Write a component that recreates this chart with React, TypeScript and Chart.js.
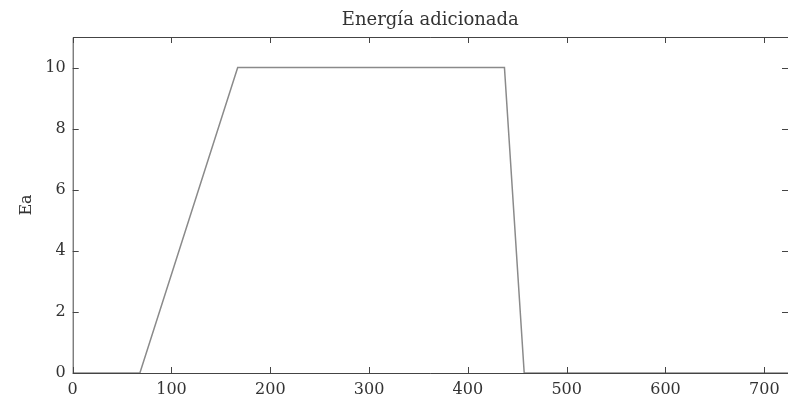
import React, { useEffect, useRef } from "react";
import { Chart, registerables } from "chart.js";

Chart.register(...registerables);

const timeValues = [0, 68, 167, 437, 457, 724];
const energyValues = [0, 0, 10, 10, 0, 0];
const xTickValues = [0, 100, 200, 300, 400, 500, 600, 700];
const yTickValues = [0, 2, 4, 6, 8, 10];
const titleText = "Energía adicionada";
const yLabelText = "Ea";

const FONT = "'DejaVu Serif', serif";

const framePlugin = {
  id: "matlabFrame",
  afterDraw(chart: any) {
    const { ctx, chartArea } = chart;
    const { left, right, top, bottom } = chartArea;
    const xs = chart.scales.x;
    const ys = chart.scales.y;
    ctx.save();
    ctx.strokeStyle = "#444";
    ctx.lineWidth = 1;
    ctx.beginPath();
    ctx.moveTo(left + 0.5, top + 0.5);
    ctx.lineTo(right + 0.5, top + 0.5);
    ctx.lineTo(right + 0.5, bottom + 0.5);
    ctx.lineTo(left + 0.5, bottom + 0.5);
    ctx.closePath();
    ctx.stroke();
    const tl = 6;
    ctx.beginPath();
    xs.ticks.forEach((t: any) => {
      const px = Math.round(xs.getPixelForValue(t.value)) + 0.5;
      ctx.moveTo(px, bottom);
      ctx.lineTo(px, bottom - tl);
      ctx.moveTo(px, top);
      ctx.lineTo(px, top + tl);
    });
    ys.ticks.forEach((t: any) => {
      const py = Math.round(ys.getPixelForValue(t.value)) + 0.5;
      ctx.moveTo(left, py);
      ctx.lineTo(left + tl, py);
      ctx.moveTo(right, py);
      ctx.lineTo(right - tl, py);
    });
    ctx.stroke();
    ctx.fillStyle = "#333";
    ctx.font = `18px ${FONT}`;
    ctx.textAlign = "center";
    ctx.textBaseline = "alphabetic";
    ctx.fillText(titleText, (left + 788) / 2, 25);
    ctx.font = `16px ${FONT}`;
    ctx.translate(30.5, (top + bottom) / 2);
    ctx.rotate(-Math.PI / 2);
    ctx.fillText(yLabelText, 0, 0);
    ctx.restore();
  },
};

export default function App() {
  const ref = useRef<HTMLCanvasElement | null>(null);
  useEffect(() => {
    if (!ref.current) return;
    const chart = new Chart(ref.current, {
      type: "scatter",
      data: {
        datasets: [
          {
            data: timeValues.map((x, i) => ({ x, y: energyValues[i] })),
            showLine: true,
            borderColor: "#8a8a8a",
            borderWidth: 1.5,
            pointRadius: 0,
            tension: 0,
            fill: false,
          },
        ],
      },
      options: {
        responsive: false,
        animation: false,
        events: [],
        layout: { padding: { left: 0, top: 37, right: -2, bottom: 0 } },
        plugins: {
          legend: { display: false },
          title: { display: false },
          tooltip: { enabled: false },
        },
        scales: {
          x: {
            type: "linear",
            min: 0,
            max: 724,
            afterBuildTicks: (s: any) => {
              s.ticks = xTickValues.map((v) => ({ value: v }));
            },
            afterFit: (s: any) => {
              s.height = 25;
            },
            grid: { display: false, drawTicks: false },
            border: { display: false },
            ticks: {
              padding: 7,
              color: "#333",
              font: { family: FONT, size: 16 },
              maxRotation: 0,
              autoSkip: false,
            },
          },
          y: {
            type: "linear",
            min: 0,
            max: 11,
            afterBuildTicks: (s: any) => {
              s.ticks = yTickValues.map((v) => ({ value: v }));
            },
            afterFit: (s: any) => {
              s.width = 72.7;
            },
            grid: { display: false, drawTicks: false },
            border: { display: false },
            ticks: {
              padding: 7,
              color: "#333",
              font: { family: FONT, size: 16 },
              autoSkip: false,
            },
          },
        },
      },
      plugins: [framePlugin],
    });
    return () => chart.destroy();
  }, []);
  return (
    <div style={{ position: "absolute", left: 0, top: 0, width: 788, height: 398, background: "#fff" }}>
      <canvas ref={ref} width={788} height={398} style={{ display: "block", width: 788, height: 398 }} />
    </div>
  );
}
